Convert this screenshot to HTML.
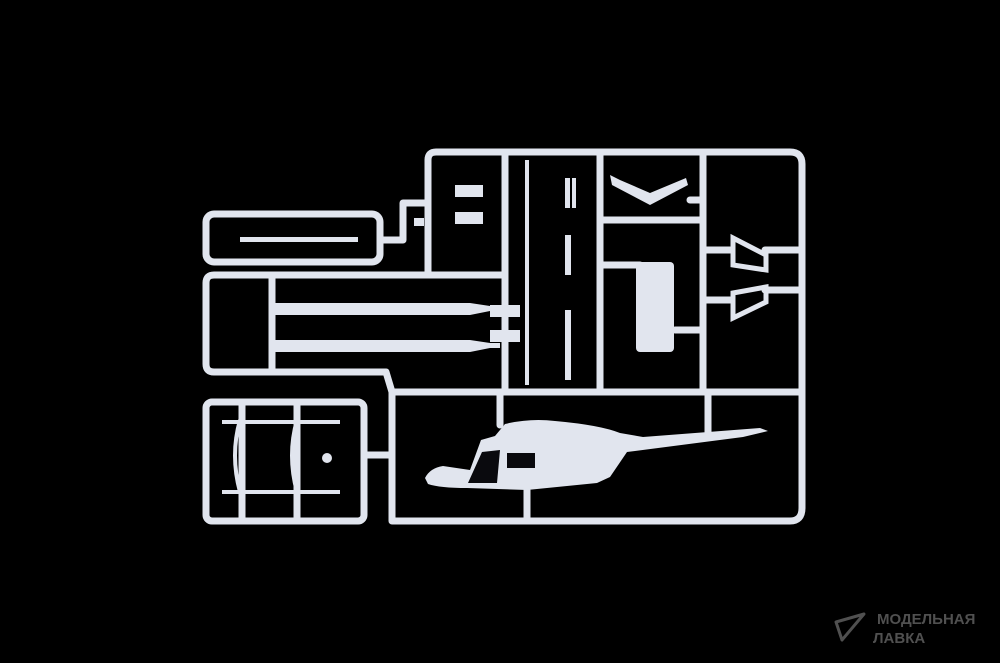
<!DOCTYPE html>
<html><head><meta charset="utf-8"><style>
html,body{margin:0;padding:0;background:#000;}
svg{display:block}
</style></head><body>
<svg width="1000" height="663" viewBox="0 0 1000 663" xmlns="http://www.w3.org/2000/svg">
<rect width="1000" height="663" fill="#000"/>
<g fill="none" stroke="#e1e5ee" stroke-width="7" stroke-linecap="round" stroke-linejoin="round">
<path d="M428 275 L428 160 Q428 152 436 152 L790 152 Q802 152 802 164 L802 508 Q802 521 790 521 L392 521 L392 392 L802 392"/>
<path d="M505 152 L505 392 M600 152 L600 392 M703 152 L703 392 M600 220 L703 220"/>
<rect x="206" y="214" width="174" height="48" rx="8"/>
<path d="M380 240 L403 240 L403 203 L428 203"/>
<path d="M505 275 L214 275 Q206 275 206 283 L206 364 Q206 372 214 372 L386 372 L392 392"/>
<path d="M272 275 L272 372"/>
<rect x="206" y="402" width="158" height="119" rx="6"/>
<path d="M242 402 L242 521 M297 402 L297 521 M364 455 L392 455"/>
<path d="M500 392 L500 425 M527 490 L527 521 M708 392 L708 432 M703 250 L730 250 M703 300 L730 300 M765 250 L802 250 M765 290 L802 290 M690 200 L703 200 M600 265 L640 265 M675 330 L703 330"/>
</g>
<g fill="none" stroke="#e1e5ee" stroke-width="4">
<path d="M527 160 L527 385"/>
</g>
<g fill="#e1e5ee">
<path d="M275 303 L470 303 L490 306 L500 306 L500 311 L490 311 L470 315 L275 315 Z"/>
<path d="M275 340 L470 340 L490 343 L500 343 L500 348 L490 348 L470 352 L275 352 Z"/>
<rect x="240" y="237" width="118" height="5"/>
<rect x="414" y="218" width="10" height="8"/>
<rect x="455" y="185" width="28" height="12"/><rect x="455" y="212" width="28" height="12"/>
<rect x="490" y="305" width="30" height="12"/><rect x="490" y="330" width="30" height="12"/>
<rect x="565" y="178" width="5" height="30"/><rect x="572" y="178" width="4" height="30"/>
<rect x="565" y="235" width="6" height="40"/><rect x="565" y="310" width="6" height="70"/>
<path d="M610 175 L612 185 L650 205 L688 185 L686 178 L650 193 L620 180 Z"/>
<rect x="636" y="262" width="38" height="90" rx="4"/>
<path d="M733 238 L766 255 L766 270 L733 265 Z" fill="none" stroke="#e1e5ee" stroke-width="5"/>
<path d="M733 293 L766 287 L766 302 L733 318 Z" fill="none" stroke="#e1e5ee" stroke-width="5"/>
<rect x="222" y="420" width="118" height="4"/><rect x="222" y="490" width="118" height="4"/>
<path d="M240 420 Q230 455 240 492" fill="none" stroke="#e1e5ee" stroke-width="4"/>
<path d="M297 420 Q287 455 297 492" fill="none" stroke="#e1e5ee" stroke-width="4"/>
<circle cx="327" cy="458" r="5"/>
<path d="M425 478 Q430 468 443 466 L470 470 L481 440 L495 436 L505 424 Q530 418 555 421 Q600 425 620 433 L643 437 L760 428 L768 431 L743 437 L627 452 L610 477 L597 483 L527 490 L467 488 Q440 488 428 484 Z"/>
</g>
<g fill="#0a0a0e">
<path d="M468 483 L482 452 L500 450 L497 483 Z"/>
<rect x="507" y="453" width="28" height="15"/>
</g>
<g fill="none" stroke="#505050" stroke-width="3" stroke-linejoin="round"><path d="M842 640 L836 622 L864 614 Z"/></g>
<text x="877" y="624" font-family="Liberation Sans, DejaVu Sans, sans-serif" font-size="15" font-weight="bold" fill="#505050">МОДЕЛЬНАЯ</text>
<text x="873" y="643" font-family="Liberation Sans, DejaVu Sans, sans-serif" font-size="15" font-weight="bold" fill="#505050">ЛАВКА</text>
</svg>
</body></html>
